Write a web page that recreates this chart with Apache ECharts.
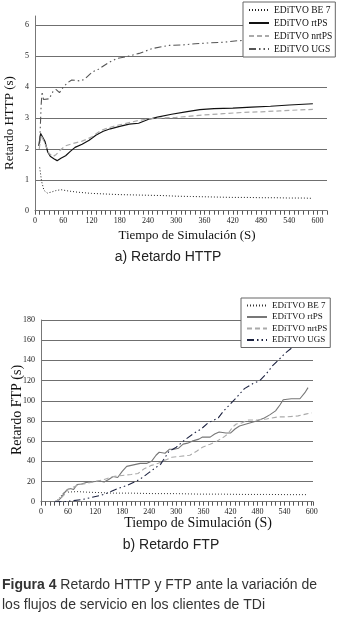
<!DOCTYPE html>
<html>
<head>
<meta charset="utf-8">
<script src="https://cdn.jsdelivr.net/npm/echarts@6/dist/echarts.min.js"></script>
<style>html,body{margin:0;padding:0;background:#fff;}#c{width:342px;height:627px;}</style>
</head>
<body>
<div id="c"></div>
<script>
var seriesNames = ['EDiTVO BE 7', 'EDiTVO rtPS', 'EDiTVO nrtPS', 'EDiTVO UGS'];
var xTicksLabel = 'Tiempo de Simulación (S)';

var httpBE = [[10,1.4],[14,0.95],[19,0.66],[26,0.57],[34,0.6],[44,0.65],[55,0.68],[70,0.64],[90,0.6],[120,0.56],[150,0.54],[180,0.52],[210,0.51],[240,0.5],[270,0.49],[300,0.47],[330,0.46],[360,0.45],[390,0.44],[420,0.43],[450,0.43],[480,0.42],[510,0.42],[540,0.41],[570,0.41],[590,0.4]];
var httpRT = [[8,2.1],[12,2.5],[16,2.45],[21,2.25],[27,1.9],[33,1.75],[40,1.68],[47,1.62],[55,1.7],[65,1.78],[75,1.92],[85,2.05],[100,2.15],[115,2.28],[130,2.45],[145,2.57],[160,2.65],[180,2.73],[200,2.8],[220,2.83],[240,2.95],[260,3.03],[290,3.12],[320,3.2],[350,3.27],[380,3.3],[420,3.32],[460,3.35],[500,3.38],[540,3.42],[590,3.46]];
var httpNRT = [[9,2.0],[13,2.45],[17,2.4],[23,2.1],[30,1.85],[38,1.75],[45,1.82],[55,1.98],[65,2.1],[80,2.17],[100,2.25],[120,2.38],[140,2.6],[160,2.7],[180,2.78],[200,2.85],[220,2.92],[240,2.97],[270,3.0],[300,3.02],[330,3.06],[360,3.1],[400,3.14],[440,3.18],[480,3.2],[520,3.23],[560,3.26],[590,3.28]];
var httpUGS = [[10,2.2],[13,3.4],[15,3.85],[18,3.6],[22,3.55],[30,3.62],[38,3.85],[45,3.92],[52,3.82],[60,4.0],[70,4.15],[78,4.23],[95,4.2],[105,4.25],[122,4.49],[135,4.58],[157,4.8],[175,4.93],[193,4.98],[221,5.09],[250,5.25],[285,5.35],[310,5.36],[340,5.4],[370,5.43],[400,5.45],[430,5.5],[460,5.52],[500,5.55],[540,5.58],[590,5.62]];

var ftpBE = [[30,0],[38,2],[45,6],[52,10],[60,9.5],[80,10],[100,9.5],[130,9],[160,8.5],[200,8.5],[250,8],[300,8],[350,7.5],[400,7.5],[450,7.2],[500,7.2],[550,7],[590,7]];
var ftpRT = [[30,0],[38,1],[45,4],[52,9],[58,12],[65,13],[72,12],[80,17],[90,17.5],[100,19],[110,19.5],[120,20],[130,20.5],[140,19.5],[150,22],[160,25],[170,24],[180,30],[190,35],[200,36],[210,37],[220,38],[235,38],[245,40],[255,46],[262,49],[275,48],[285,52],[295,52],[305,53],[315,57],[325,58],[335,60],[350,62],[358,64],[375,64],[385,67],[395,69],[410,68],[420,68],[430,72],[440,75],[455,77],[478,80],[495,83],[507,86],[520,90],[530,96],[537,101],[555,102],[574,102],[585,108],[592,113]];
var ftpNRT = [[30,0],[40,2],[50,6],[60,12],[70,14],[85,17],[100,18],[120,20],[140,22],[160,25],[180,26],[200,27],[215,28],[230,33],[245,36],[260,38],[275,41],[290,44],[310,45],[330,46],[345,50],[358,54],[375,57],[390,60],[405,64],[414,67],[425,74],[433,77],[445,78],[460,81],[480,81],[500,82],[525,84],[545,84],[570,85],[589,87],[600,88]];
var ftpUGS = [[30,0],[50,0],[70,1],[90,2],[110,4],[130,6],[150,9],[170,13],[190,16],[210,20],[225,24],[240,29],[255,34],[265,37],[284,50],[300,54],[318,61],[340,68],[355,72],[370,78],[393,83],[405,90],[418,96],[435,104],[451,112],[470,117],[485,120],[500,127],[514,135],[528,141],[541,147],[555,152],[570,158],[590,165]];

var serif = 'Liberation Serif';
var sans = 'Liberation Sans';

function mkSeries(prefix, idx, data, color, type, width) {
  return {
    name: prefix + '|' + seriesNames[idx],
    type: 'line', xAxisIndex: prefix === 'a' ? 0 : 1, yAxisIndex: prefix === 'a' ? 0 : 1,
    data: data, showSymbol: false, symbol: 'none', smooth: false,
    lineStyle: { color: color, type: type, width: width },
    itemStyle: { color: color },
    silent: true
  };
}

function xAxis(gi, max) {
  return {
    type: 'value', gridIndex: gi, min: 0, max: max, interval: 60,
    axisLine: { show: true, lineStyle: { color: '#777', width: 1 } },
    axisTick: { show: true, length: 4, lineStyle: { color: '#555' } },
    minorTick: { show: true, splitNumber: 6, length: 4, lineStyle: { color: '#555' } },
    axisLabel: { showMaxLabel: false, fontFamily: serif, fontSize: 8, color: '#222', margin: 6 },
    splitLine: { show: false }
  };
}
function yAxis(gi, max, interval, showMax) {
  return {
    type: 'value', gridIndex: gi, min: 0, max: max, interval: interval,
    axisLine: { show: true, lineStyle: { color: '#777', width: 1 } },
    axisTick: { show: false },
    axisLabel: { showMaxLabel: showMax, fontFamily: serif, fontSize: 8, color: '#222', margin: 6 },
    splitLine: { show: true, showMaxLine: showMax, lineStyle: { color: '#6f6f6f', width: 1 } }
  };
}

function legend(prefix, left, top, fs, ih, gap) {
  return {
    orient: 'vertical', left: left, top: top,
    data: seriesNames.map(function (n) { return prefix + '|' + n; }),
    formatter: function (n) { return n.split('|')[1]; },
    itemWidth: 20, itemHeight: ih, itemGap: gap,
    padding: [3, 3, 3, 5],
    borderColor: '#666', borderWidth: 1, backgroundColor: '#fff',
    itemStyle: { opacity: 0 },
    textStyle: { fontFamily: serif, fontSize: fs, color: '#111', padding: [0, 0, 0, 0] },
    selectedMode: false
  };
}

var dashDotDot = [7, 3, 1.5, 3, 1.5, 3];

var chart = echarts.init(document.getElementById('c'), null, { renderer: 'canvas' });
chart.setOption({
  animation: false,
  backgroundColor: '#fff',
  grid: [
    { left: 35, top: 16, width: 292, height: 194.7 },
    { left: 41, top: 320, width: 272, height: 181.7 }
  ],
  xAxis: [xAxis(0, 620), xAxis(1, 603)],
  yAxis: [yAxis(0, 6.3, 1, false), yAxis(1, 180, 20, true)],
  legend: [
    legend('a', 243, 2, 9.5, 10, 3),
    legend('b', 241, 298, 9, 9, 2.5)
  ],
  series: [
    mkSeries('a', 0, httpBE, '#222', [1, 2], 1),
    mkSeries('a', 1, httpRT, '#111', 'solid', 1.2),
    mkSeries('a', 2, httpNRT, '#aaa', [5, 3], 1.2),
    mkSeries('a', 3, httpUGS, '#555', dashDotDot, 1.1),
    mkSeries('b', 0, ftpBE, '#333', [1, 2], 1),
    mkSeries('b', 1, ftpRT, '#777', 'solid', 1.1),
    mkSeries('b', 2, ftpNRT, '#aaa', [5, 3], 1.1),
    mkSeries('b', 3, ftpUGS, '#1c2240', dashDotDot, 1.1)
  ],
  graphic: [
    { type: 'text', x: 10, y: 123, rotation: Math.PI / 2,
      style: { text: 'Retardo HTTP (s)', font: '13px ' + serif, fill: '#111', textAlign: 'center', textVerticalAlign: 'middle', align: 'center', verticalAlign: 'middle' } },
    { type: 'text', x: 187, y: 236,
      style: { text: xTicksLabel, font: '13px ' + serif, fill: '#111', textAlign: 'center', textVerticalAlign: 'middle', align: 'center', verticalAlign: 'middle' } },
    { type: 'text', x: 168, y: 257,
      style: { text: 'a) Retardo HTTP', font: '14px ' + sans, fill: '#222', textAlign: 'center', textVerticalAlign: 'middle', align: 'center', verticalAlign: 'middle' } },
    { type: 'text', x: 17, y: 410, rotation: Math.PI / 2,
      style: { text: 'Retardo FTP (s)', font: '14px ' + serif, fill: '#111', textAlign: 'center', textVerticalAlign: 'middle', align: 'center', verticalAlign: 'middle' } },
    { type: 'text', x: 198, y: 523,
      style: { text: xTicksLabel, font: '14px ' + serif, fill: '#111', textAlign: 'center', textVerticalAlign: 'middle', align: 'center', verticalAlign: 'middle' } },
    { type: 'text', x: 171, y: 545,
      style: { text: 'b) Retardo FTP', font: '14px ' + sans, fill: '#222', textAlign: 'center', textVerticalAlign: 'middle', align: 'center', verticalAlign: 'middle' } },
    { type: 'text', x: 2, y: 575,
      style: {
        text: '{b|Figura 4} Retardo HTTP y FTP ante la variación de\nlos flujos de servicio en los clientes de TDi',
        font: '14px ' + sans, fill: '#333', lineHeight: 20,
        rich: { b: { fontWeight: 'bold', fontFamily: sans, fontSize: 14, lineHeight: 20, fill: '#333', color: '#333' } }
      } }
  ]
});
</script>
</body>
</html>
